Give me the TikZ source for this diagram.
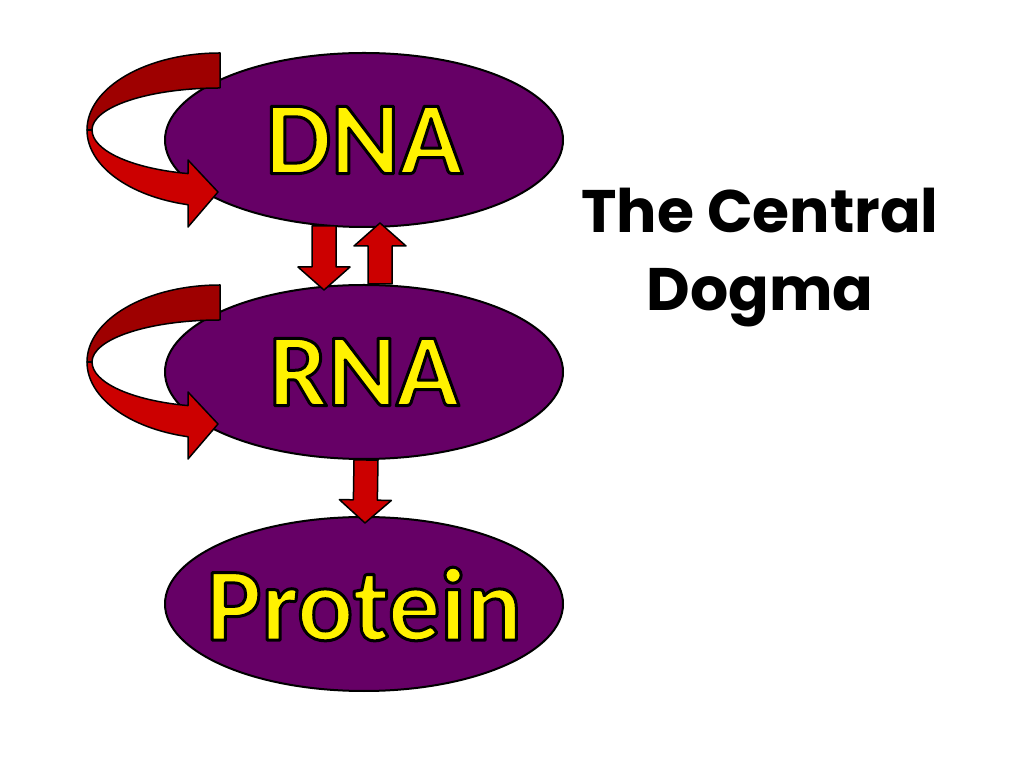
\documentclass[tikz,border=0pt]{standalone}
\usepackage{fontspec}
\usetikzlibrary{positioning, shapes.geometric, calc}

\newfontfamily\labelfont{Carlito}
\newfontfamily\titlefont{Poppins}

\definecolor{dogmapurple}{RGB}{102,0,102}
\definecolor{arrowred}{RGB}{204,0,0}
\definecolor{backred}{RGB}{158,0,0}

% yellow letters with a thin black rim
\newcommand{\rimmed}[1]{\special{pdf:literal direct 0 0 0 RG 3 w 1 j 2 Tr}#1\special{pdf:literal direct 0 Tr}}

\tikzset{
  molecule/.style={ellipse, draw=black, line width=2pt, fill=dogmapurple,
    minimum width=398pt, minimum height=174pt, inner xsep=-80pt, inner ysep=0pt,
    text=yellow, font=\labelfont\bfseries\fontsize{104}{110}\selectfont},
  blockarrow/.style={fill=arrowred, draw=black, line width=1.5pt, line join=round},
  selfloop/.pic={
    % back half of the loop
    \filldraw[fill=backred, draw=black, line width=1.5pt, line join=round]
      (-277,10) arc[start angle=180, end angle=90, x radius=133, y radius=77]
      -- (-144,52) arc[start angle=90, end angle=180, x radius=128, y radius=42] -- cycle;
    % front half with the head
    \filldraw[fill=arrowred, draw=black, line width=1.5pt, line join=round]
      (-277,10) arc[start angle=180, end angle=256.1, x radius=133, y radius=77]
      -- (-176,-87) -- (-146,-52) -- (-176,-20) -- (-176,-33.6)
      arc[start angle=255.5, end angle=180, x radius=128, y radius=45] -- cycle;
  }
}

\begin{document}
\begin{tikzpicture}[x=1pt, y=1pt]
  \useasboundingbox (0,0) rectangle (1024,768);

  \node (DNA) [molecule] at (364,628) {\rimmed{DNA}};
  \node (RNA) [molecule, below=56pt of DNA] {\rimmed{RNA}};
  \node (Protein) [molecule, below=56pt of RNA] {\rimmed{Protein}};

  \node (title) [font=\titlefont\bfseries\fontsize{60}{78}\selectfont, align=center]
    at (760,510) {The Central\\Dogma};

  % replication
  \pic at (DNA.center) {selfloop};
  \pic at (RNA.center) {selfloop};

  % transcription, reverse transcription, translation
  \coordinate (dnaout) at ([xshift=-40, yshift=2]DNA.south);
  \coordinate (rnain) at ([xshift=-40, yshift=-6]RNA.north);
  \coordinate (rnaup) at ([xshift=16]RNA.north);
  \coordinate (dnain) at ([xshift=16, yshift=5]DNA.south);
  \coordinate (rnaout) at ([xshift=2]RNA.south);
  \coordinate (protin) at ([xshift=1, yshift=-7]Protein.north);

  \foreach \s/\t in {dnaout/rnain, rnaup/dnain, rnaout/protin}{
    \coordinate (hb) at ($(\t)!23pt!(\s)$);
    \filldraw[blockarrow] ($(\s)!12pt!90:(\t)$) -- ($(hb)!12pt!90:(\t)$)
      -- ($(hb)!26pt!90:(\t)$) -- (\t) -- ($(hb)!26pt!-90:(\t)$)
      -- ($(hb)!12pt!-90:(\t)$) -- ($(\s)!12pt!-90:(\t)$) -- cycle;
  }
\end{tikzpicture}
\end{document}
